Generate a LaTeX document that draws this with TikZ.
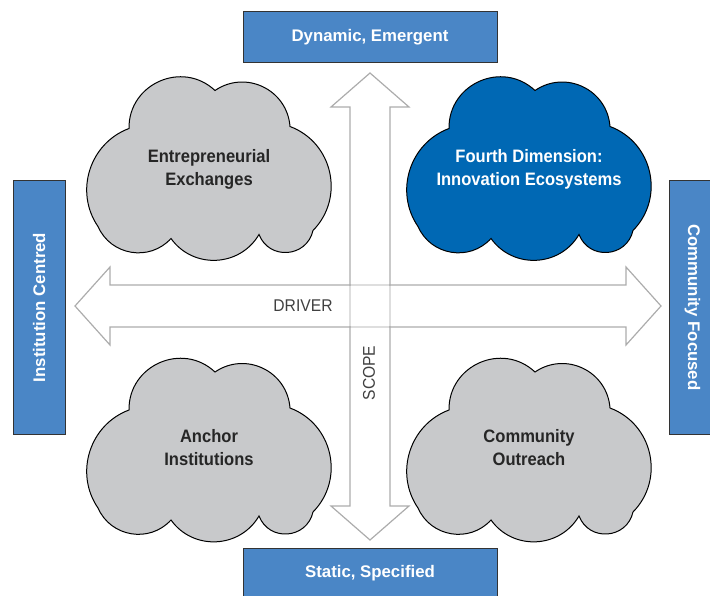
\documentclass[tikz,border=0pt]{standalone}
\usepackage{fontspec}
\newfontfamily\labelfont{Liberation Sans}
\newfontfamily\cloudfont{Liberation Sans}[FakeStretch=0.92]
\usepackage{tikz}
\usetikzlibrary{calc,positioning}
\usepackage{xcolor}

\definecolor{boxblue}{RGB}{74,134,198}
\definecolor{deepblue}{RGB}{0,104,180}
\definecolor{cloudgray}{RGB}{200,201,203}
\definecolor{arrowgray}{RGB}{172,172,172}

\tikzset{
	puff/.pic={
		\draw[pic actions,line width=1pt] (-80,-40) to[bend left=67,looseness=1.22] (6,-78)
			to[bend left=60,looseness=1.14] (81,-42) to[bend left=57,looseness=1.1] (104,62)
			to[bend left=73,looseness=1.32] (50,66) to[bend left=57,looseness=1.1] (-38,70)
			to[bend left=57,looseness=1.1] (-111,58) to[bend left=52,looseness=1.05] (-80,-40) -- cycle;
	}
}

\begin{document}
\begin{tikzpicture}[x=1pt,y=-1pt,
		labelbox/.style={draw=black!80,fill=boxblue,text=white,line width=1pt,inner sep=0pt,
			font=\labelfont\fontsize{16.8}{20}\selectfont\bfseries},
		arrowline/.style={draw=arrowgray,line width=1.2pt},
		cloudtext/.style={align=center,text=black!85,
			font=\cloudfont\fontsize{18}{23}\selectfont\bfseries},
		axistext/.style={text=black!75,font=\cloudfont\fontsize{17}{20}\selectfont}]
				\useasboundingbox (0,0) rectangle (710,596);
				% scope and driver arrows
				\draw[arrowline] (350,107) -- (331,107) -- (370,73) -- (409,107) -- (390,107) -- (390,506)
					-- (409,506) -- (370,540) -- (331,506) -- (350,506) -- cycle;
				\draw[arrowline] (110,285) -- (110,267) -- (75,306) -- (110,345) -- (110,327) -- (626,327)
					-- (626,345) -- (661,306) -- (626,267) -- (626,285) -- cycle;
				\foreach \a/\b in {350/285,390/285}
				{
					\draw[white,line width=1.6pt] (\a,\b+1) -- (\a,\b+41);
					\draw[arrowgray!40,line width=1.2pt] (\a,\b+1) -- (\a,\b+41);
				}
				\foreach \b in {285,327}
				{
					\draw[white,line width=1.6pt] (351,\b) -- (389,\b);
					\draw[arrowgray!40,line width=1.2pt] (351,\b) -- (389,\b);
				}
				\node[axistext] (driver) at (303,306) {DRIVER};
				\node[axistext,rotate=90] (scope) at (369,373) {SCOPE};
				% clouds
				\foreach \cx/\cy/\col in {209/168.5/cloudgray,529/168.5/deepblue,209/450/cloudgray,529/450/cloudgray}
				\pic[fill=\col] at (\cx,\cy) {puff};
				\node[cloudtext] (exch) at (209,169) {Entrepreneurial\\Exchanges};
				\node[cloudtext,text=white] (fourth) at (529,169) {Fourth Dimension:\\Innovation Ecosystems};
				\node[cloudtext] (anchor) at (209,448) {Anchor\\Institutions};
				\node[cloudtext] (outreach) at (529,448) {Community\\Outreach};
				% end labels
				\node[labelbox,minimum width=254,minimum height=51] (dynamic) at (370,37.5) {Dynamic, Emergent};
				\node[labelbox,minimum width=254,minimum height=50] (static) at (370,573.5) {Static, Specified};
				\node[labelbox,rotate=90,minimum width=253,minimum height=52] (inst) at (39,307.5) {Institution Centred};
				\node[labelbox,rotate=-90,minimum width=253,minimum height=47] (comm) at (692.5,307.5) {Community Focused};
			\end{tikzpicture}
\end{document}
